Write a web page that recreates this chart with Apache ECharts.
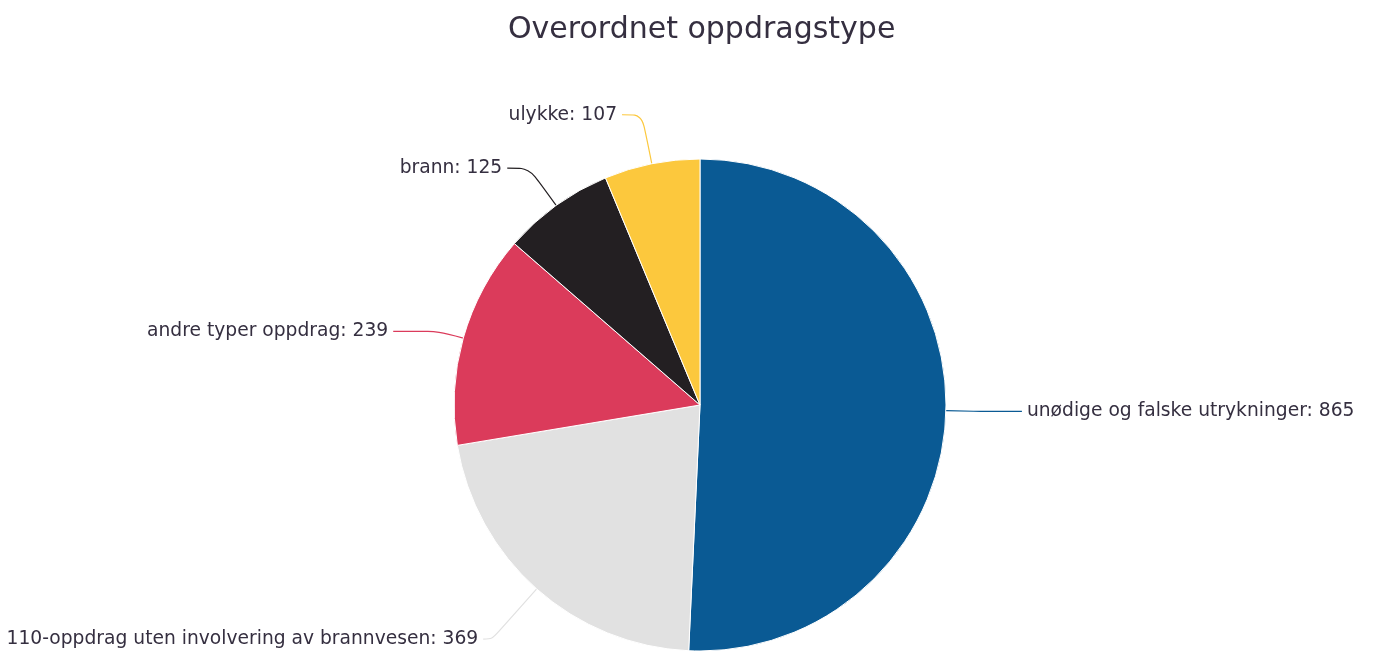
<!DOCTYPE html>
<html><head><meta charset="utf-8">
<script src="https://cdn.jsdelivr.net/npm/echarts@6/dist/echarts.min.js"></script>
<style>html,body{margin:0;padding:0;background:#fff}#c{width:1377px;height:654px}</style>
</head><body><div id="c"></div>
<script>
const categories = ["unødige og falske utrykninger", "110-oppdrag uten involvering av brannvesen", "andre typer oppdrag", "brann", "ulykke"];
const values = [865, 369, 239, 125, 107];
const colors = ["#0a5a94", "#e1e1e1", "#db3b5b", "#231f22", "#fcc83d"];
const lineLen = [35, 67, 25, 46, 50];
const lineLen2 = [41, 9, 46, 22, 20];

const chart = echarts.init(document.getElementById('c'));
chart.setOption({
  animation: false,
  title: {
    text: "Overordnet oppdragstype",
    left: 503, top: 10,
    textStyle: { fontFamily: 'DejaVu Sans', fontSize: 30, fontWeight: 'normal', color: '#352f40' }
  },
  series: [{
    type: 'pie',
    center: [700, 405],
    radius: 246,
    startAngle: 90,
    clockwise: true,
    avoidLabelOverlap: false,
    data: categories.map((c, i) => ({
      name: c, value: values[i],
      itemStyle: { color: colors[i] },
      labelLine: { length: lineLen[i], length2: lineLen2[i] }
    })),
    itemStyle: { borderColor: '#fff', borderWidth: 1 },
    label: {
      show: true,
      formatter: '{b}: {c}',
      fontFamily: 'DejaVu Sans', fontSize: 18.7, color: '#352f40'
    },
    labelLine: { show: true, smooth: 0.3, lineStyle: { width: 1.2 } }
  }]
});
</script></body></html>
